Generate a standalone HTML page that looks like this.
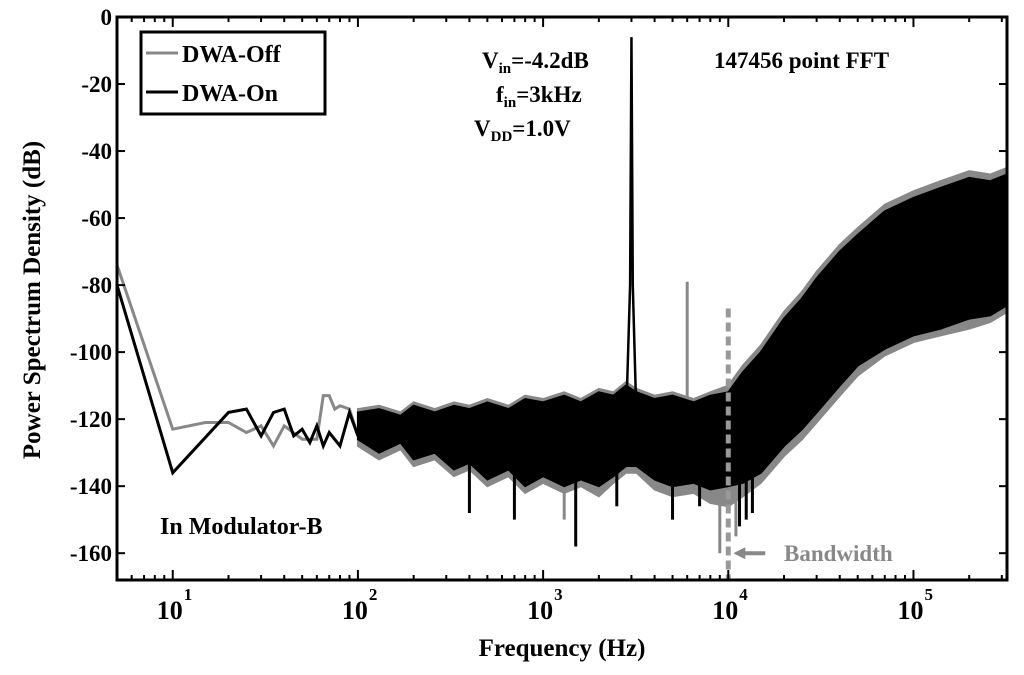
<!DOCTYPE html>
<html><head><meta charset="utf-8"><style>
body{margin:0;background:#fff;}
svg{font-family:"Liberation Serif",serif;font-weight:bold;}
</style></head><body>
<svg id="chart" width="1024" height="670">
<g id="plot"></g>
</svg>
<script>
const xTicks=[1,2,3,4,5];
const yTicks=[0,-20,-40,-60,-80,-100,-120,-140,-160];
const offFreq=[5,10,15,20,25,30,35,40,50,60,65,70,75,80,90,100];
const offDb=[-74,-123,-121,-121,-124,-122,-128,-122,-126,-126,-113,-113,-117,-116,-117,-125];
const onFreq=[5,10,20,25,30,35,40,45,50,55,60,65,70,80,90,100];
const onDb=[-80,-136,-118,-117,-125,-118,-117,-125,-123,-127,-122,-128,-124,-128,-118,-125];
const bandFreq=[100,130,170,200,260,330,400,500,650,800,1000,1300,1600,2000,2400,2800,3200,4000,5000,6500,8000,10000,12000,15000,20000,25000,30000,40000,50000,70000,100000,140000,200000,260000,320000];
const onUpper=[-118,-117,-119,-116,-118,-116,-117,-115,-117,-114,-115,-113,-115,-112,-113,-110,-112,-114,-113,-115,-113,-112,-106,-100,-90,-84,-78,-70,-65,-58,-54,-51,-48,-49,-47];
const onLower=[-126,-130,-127,-132,-130,-135,-133,-138,-135,-140,-137,-140,-138,-140,-137,-134,-134,-138,-140,-139,-141,-140,-139,-136,-128,-123,-118,-110,-104,-99,-95,-93,-90,-89,-86];
const offUpper=[-117,-116,-118,-115,-117,-115,-116,-114,-116,-113,-114,-112,-114,-111,-112,-109,-111,-113,-112,-114,-112,-110,-104,-98,-88,-82,-76,-68,-63,-56,-52,-49,-46,-47,-45];
const offLower=[-128,-132,-129,-134,-132,-137,-135,-140,-137,-142,-139,-142,-140,-143,-139,-136,-136,-141,-143,-142,-145,-146,-143,-139,-131,-126,-121,-113,-107,-101,-97,-95,-93,-91,-88];
const peakFreq=[2800,2950,3000,3050,3200];
const peakDb=[-122,-80,-6,-80,-122];
const onSpikeF=[400,700,1500,2500,5000,7000,11500,12500,13500];
const onSpikeDb=[-148,-150,-158,-146,-150,-146,-152,-150,-148];
const offSpikeF=[1300,6000,9000,11000];
const offSpikeDb=[-150,-79,-160,-155];

const L=117,R=1007,T=17,B=580,xmin=Math.log10(5),xmax=Math.log10(320000),ymin=-168,ymax=0;
const X=f=>L+(Math.log10(f)-xmin)/(xmax-xmin)*(R-L);
const Y=d=>T+(ymax-d)/(ymax-ymin)*(B-T);
const NS="http://www.w3.org/2000/svg";
const g=document.getElementById('plot');
function mk(tag,attrs,parent){const e=document.createElementNS(NS,tag);for(const k in attrs)e.setAttribute(k,attrs[k]);(parent||g).appendChild(e);return e;}
function band(up,lo,color,name){
 let pts=bandFreq.map((f,i)=>X(f)+','+Y(up[i]));
 pts=pts.concat(bandFreq.map((f,i)=>X(f)+','+Y(lo[i])).reverse());
 const p=mk('polygon',{points:pts.join(' '),fill:color,stroke:color,'stroke-width':2});
 
 
}
function line(fs,ds,color,name,w){
 const p=mk('polyline',{points:fs.map((f,i)=>X(f)+','+Y(ds[i])).join(' '),fill:'none',stroke:color,'stroke-width':w||3});
 
 
}
band(offUpper,offLower,'#888','dwa-off-noise');
offSpikeF.forEach((f,i)=>line([f,f],[-125,offSpikeDb[i]],'#888','dwa-off-spike'));
line(offFreq,offDb,'#888','dwa-off-lowfreq');
band(onUpper,onLower,'#000','dwa-on-noise');
onSpikeF.forEach((f,i)=>line([f,f],[-128,onSpikeDb[i]],'#000','dwa-on-spike'));
line(onFreq,onDb,'#000','dwa-on-lowfreq');
line(peakFreq,peakDb,'#000','signal-peak',2.5);
const bw=mk('line',{x1:X(10000),x2:X(10000),y1:Y(-87),y2:B,stroke:'#999','stroke-width':5,'stroke-dasharray':'9,5'});


const ar=mk('path',{d:`M${X(10000)+5},${Y(-160)} l12,-6 v4 h20 v4 h-20 v4 z`,fill:'#888'});


const bt=mk('text',{x:784,y:561,'font-size':23,fill:'#888'});bt.textContent='Bandwidth';


const fr=mk('rect',{x:L,y:T,width:R-L,height:B-T,fill:'none',stroke:'#000','stroke-width':3});


yTicks.forEach(v=>{
 const y=Y(v);
 const t=mk('line',{x1:L,x2:L+8,y1:y,y2:y,stroke:'#000','stroke-width':2});
 
 
 mk('line',{x1:R,x2:R-8,y1:y,y2:y,stroke:'#000','stroke-width':2});
 const tx=mk('text',{x:L-5,y:y+8,'font-size':23,'text-anchor':'end'});tx.textContent=v;
 
 
});
for(let e=0;e<=5;e++)for(let m=1;m<10;m++){
 const f=m*Math.pow(10,e);if(f<5||f>320000)continue;
 const x=X(f),len=m==1?10:5;
 mk('line',{x1:x,x2:x,y1:B,y2:B-len,stroke:'#000','stroke-width':2});
 mk('line',{x1:x,x2:x,y1:T,y2:T+len,stroke:'#000','stroke-width':2});
}
xTicks.forEach(e=>{
 const x=X(Math.pow(10,e));
 const t=mk('text',{x:x-16,y:619,'font-size':26});t.textContent='10';
 
 
 const s=mk('text',{x:x+11,y:600,'font-size':17});s.textContent=e;
});
</script>
<svg width="1024" height="670" style="position:absolute;left:0;top:0">
<g font-family="Liberation Serif, serif" font-weight="bold">
<text x="562" y="656" font-size="25" text-anchor="middle">Frequency (Hz)</text>
<text transform="translate(40,300) rotate(-90)" font-size="25" text-anchor="middle">Power Spectrum Density (dB)</text>
<g>
<rect x="141" y="32" width="184" height="82" fill="#fff" stroke="#000" stroke-width="3"/>
<line x1="146" y1="53" x2="178" y2="53" stroke="#888" stroke-width="3"/>
<text x="182" y="62" font-size="24">DWA-Off</text>
<line x1="146" y1="92" x2="178" y2="92" stroke="#000" stroke-width="3"/>
<text x="182" y="101" font-size="24">DWA-On</text>
</g>
<text x="482" y="68" font-size="23">V<tspan font-size="15" dy="5">in</tspan><tspan dy="-5">=-4.2dB</tspan></text>
<text x="496" y="102" font-size="23">f<tspan font-size="15" dy="5">in</tspan><tspan dy="-5">=3kHz</tspan></text>
<text x="474" y="136" font-size="23">V<tspan font-size="15" dy="5">DD</tspan><tspan dy="-5">=1.0V</tspan></text>
<text x="714" y="68" font-size="23">147456 point FFT</text>
<text x="160" y="534" font-size="24">In Modulator-B</text>
</g>
</svg>
</body></html>
